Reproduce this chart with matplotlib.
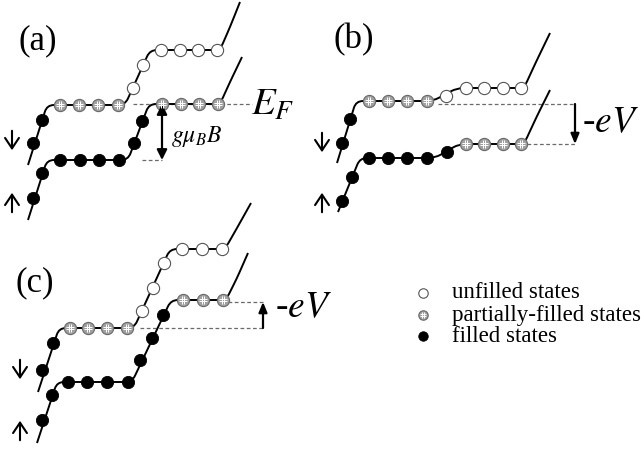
import numpy as np
import matplotlib
matplotlib.use('Agg')
import matplotlib.pyplot as plt
from matplotlib.path import Path
from matplotlib.patches import PathPatch

plt.rcParams['mathtext.fontset'] = 'stix'
plt.rcParams['font.family'] = ['Liberation Serif', 'DejaVu Serif']

# schematic in pixel units of the original picture (x right, y down)
# panel (a)
a_dn_path = [(28, 165), (47, 105), (125, 105), (150, 50), (220, 50), (230, 27), (240, 2)]
a_dn_filled = [(33, 143), (42, 120)]
a_dn_partial = [(60, 105), (79, 105), (98, 105), (118, 105)]
a_dn_unfilled = [(133, 88), (143, 65), (161, 50), (180, 50), (198, 50), (217, 50)]
a_up_path = [(28, 220), (47, 160), (128, 160), (149, 104), (220, 104), (230, 82), (242, 57)]
a_up_filled = [(33, 198), (42, 173), (60, 160), (80, 160), (99, 160), (119, 160), (134, 143), (142, 121)]
a_up_partial = [(162, 104), (181, 104), (199, 104), (218, 104)]
a_up_unfilled = []

# panel (b)
b_dn_path = [(337, 163), (356, 101), (433, 101), (457, 88), (524, 88), (536, 62), (550, 33)]
b_dn_filled = [(342, 143), (350, 119)]
b_dn_partial = [(369, 101), (388, 101), (407, 101), (427, 101)]
b_dn_unfilled = [(446, 96), (466, 88), (484, 88), (503, 88), (521, 88)]
b_up_path = [(338, 212), (360, 158), (435, 158), (459, 144), (524, 144), (537, 116), (550, 90)]
b_up_filled = [(342, 201), (352, 177), (369, 158), (388, 158), (407, 158), (427, 158), (447, 152)]
b_up_partial = [(466, 144), (484, 144), (503, 144), (521, 144)]
b_up_unfilled = []

# panel (c)
c_dn_path = [(38, 392), (59, 328), (134, 328), (170, 249), (225, 249), (237, 228), (251, 203)]
c_dn_filled = [(42, 370), (53, 343)]
c_dn_partial = [(70, 328), (88, 328), (107, 328), (127, 328)]
c_dn_unfilled = [(142, 311), (153, 288), (164, 263), (182, 249), (202, 249), (222, 249)]
c_up_path = [(37, 443), (57, 382), (132, 382), (171, 300), (226, 300), (237, 278), (248, 253)]
c_up_filled = [(42, 420), (52, 395), (68, 382), (87, 382), (107, 382), (128, 382),
               (140, 360), (152, 338), (163, 315)]
c_up_partial = [(183, 300), (203, 300), (223, 300)]
c_up_unfilled = []

legend_labels = ['unfilled states', 'partially-filled states', 'filled states']


def rounded(verts, r=7):
    pts = np.asarray(verts, float)
    out = [pts[0]]
    codes = [Path.MOVETO]
    for i in range(1, len(pts) - 1):
        p, a, b = pts[i], pts[i - 1], pts[i + 1]
        da, db = a - p, b - p
        la, lb = np.hypot(*da), np.hypot(*db)
        out += [p + da / la * min(r, la / 2), p, p + db / lb * min(r, lb / 2)]
        codes += [Path.LINETO, Path.CURVE3, Path.CURVE3]
    out.append(pts[-1])
    codes.append(Path.LINETO)
    return Path(out, codes)


# '#' shaped marker for the partially filled states
hash_marker = Path([(-0.3, -0.8), (-0.3, 0.8), (0.3, -0.8), (0.3, 0.8),
                    (-0.8, -0.3), (0.8, -0.3), (-0.8, 0.3), (0.8, 0.3)],
                   [Path.MOVETO, Path.LINETO] * 4)


def states(ax, pts, kind, ms=8.8):
    if len(pts) == 0:
        return
    x, y = np.array(pts, float).T
    if kind == 'filled':
        ax.plot(x, y, 'o', ms=ms, mfc='k', mec='k', mew=0.6, zorder=3)
    elif kind == 'unfilled':
        ax.plot(x, y, 'o', ms=ms, mfc='white', mec='#555555', mew=0.8, zorder=3)
    else:
        ax.plot(x, y, 'o', ms=ms, mfc='#a0a0a0', mec='#6a6a6a', mew=0.8, zorder=3)
        ax.plot(x, y, ls='none', marker=hash_marker, ms=ms * 0.62, mec='white',
                mew=0.7, zorder=4)


def spin_arrows(ax, x, y_dn, y_up):
    kw = dict(arrowstyle='->,head_length=0.75,head_width=0.5', lw=1.5, color='k')
    ax.annotate('', xy=(x, y_dn + 25), xytext=(x, y_dn), arrowprops=kw)
    ax.annotate('', xy=(x, y_up), xytext=(x, y_up + 25), arrowprops=kw)


fig = plt.figure(figsize=(6.41, 4.49), dpi=100)
ax = fig.add_axes([0, 0, 1, 1])
ax.set_xlim(0, 641)
ax.set_ylim(449, 0)
ax.axis('off')

panels = [
    (a_dn_path, a_dn_filled, a_dn_partial, a_dn_unfilled,
     a_up_path, a_up_filled, a_up_partial, a_up_unfilled),
    (b_dn_path, b_dn_filled, b_dn_partial, b_dn_unfilled,
     b_up_path, b_up_filled, b_up_partial, b_up_unfilled),
    (c_dn_path, c_dn_filled, c_dn_partial, c_dn_unfilled,
     c_up_path, c_up_filled, c_up_partial, c_up_unfilled),
]
for p in panels:
    for path, fil, par, unf in (p[:4], p[4:]):
        ax.add_patch(PathPatch(rounded(path), fill=False, lw=1.4, ec='k', zorder=2))
        states(ax, fil, 'filled')
        states(ax, par, 'partial')
        states(ax, unf, 'unfilled')

dash = dict(color='#6a6a6a', lw=0.9, ls=(0, (3, 2)), zorder=1)
# (a) Fermi level and Zeeman splitting
ax.plot([133, 252], [104, 104], **dash)
ax.plot([142, 162], [160, 160], **dash)
ax.annotate('', xy=(162, 104), xytext=(162, 160),
            arrowprops=dict(arrowstyle='<|-|>,head_length=0.6,head_width=0.3', lw=1.6, color='k',
                            shrinkA=0, shrinkB=0))
ax.text(251, 115, r'$E_F$', fontsize=28, ha='left', va='baseline')
ax.text(171, 142, r'$g\mu_B B$', fontsize=17, ha='left', va='baseline')

# (b) bias lowers the spin-up side
ax.plot([438, 575], [104, 104], **dash)
ax.plot([527, 575], [144, 144], **dash)
ax.annotate('', xy=(575, 144), xytext=(575, 104),
            arrowprops=dict(arrowstyle='-|>,head_length=0.6,head_width=0.25', lw=1.6, color='k',
                            shrinkA=0, shrinkB=0))
ax.text(582, 132, r'-$eV$', fontsize=27, ha='left', va='baseline')

# (c) bias raises the spin-up side
ax.plot([228, 263], [302, 302], **dash)
ax.plot([140, 263], [328, 328], **dash)
ax.annotate('', xy=(263, 302), xytext=(263, 328),
            arrowprops=dict(arrowstyle='-|>,head_length=0.6,head_width=0.25', lw=1.6, color='k',
                            shrinkA=0, shrinkB=0))
ax.text(275, 317, r'-$eV$', fontsize=27, ha='left', va='baseline')

spin_arrows(ax, 12, 128, 190)
spin_arrows(ax, 322, 130, 190)
spin_arrows(ax, 20, 357, 418)

ax.text(38, 41, '(a)', fontsize=25, ha='center', va='center')
ax.text(354, 40, '(b)', fontsize=25, ha='center', va='center')
ax.text(35, 283, '(c)', fontsize=25, ha='center', va='center')

# legend
leg_y = [293, 315, 336]
for kind, ly, lab in zip(['unfilled', 'partial', 'filled'], leg_y, legend_labels):
    states(ax, [(423, ly)], kind, ms=6.8)
    ax.text(452, ly, lab, fontsize=16.5, ha='left', va='center')

fig.savefig('out.png', dpi=100)
